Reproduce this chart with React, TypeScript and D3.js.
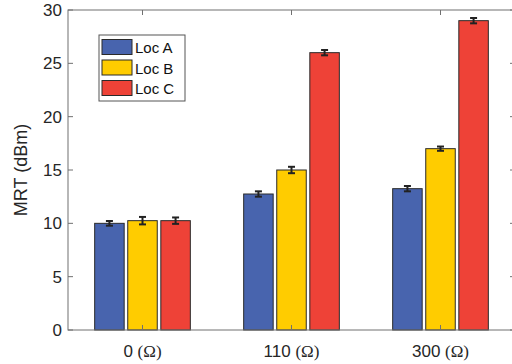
import React, { useRef, useEffect } from "react";
import * as d3 from "d3";

const groups = ["0", "110", "300"];
const series = ["Loc A", "Loc B", "Loc C"];
const colors = ["#4864ae", "#ffcc00", "#ee4237"];
const means = [
  [10.0, 12.75, 13.25],
  [10.25, 15.0, 17.0],
  [10.25, 26.0, 29.0],
];
const errs = [
  [0.22, 0.25, 0.25],
  [0.35, 0.3, 0.2],
  [0.3, 0.25, 0.25],
];
const yTicks = [0, 5, 10, 15, 20, 25, 30];

export default function App() {
  const ref = useRef<SVGSVGElement>(null);

  useEffect(() => {
    const width = 512;
    const height = 364;
    const margin = { top: 10, right: -3, bottom: 34, left: 68 };
    const svg = d3.select(ref.current);
    svg.selectAll("*").remove();
    svg.attr("width", width).attr("height", height);

    const x = d3.scaleLinear().domain([0.5, 3.5]).range([margin.left, width - margin.right]);
    const y = d3.scaleLinear().domain([0, 30]).range([height - margin.bottom, margin.top]);
    const font = "'Liberation Sans', Arial, sans-serif";
    const axisColor = "#707070";
    const offsets = [-0.222, 0, 0.222];
    const bw = x(1.198) - x(1);

    // bars
    series.forEach((s, si) => {
      svg.append("g")
        .selectAll("rect")
        .data(means[si])
        .join("rect")
        .attr("x", (d, gi) => x(gi + 1 + offsets[si]) - bw / 2)
        .attr("y", d => y(d))
        .attr("width", bw)
        .attr("height", d => y(0) - y(d))
        .attr("fill", colors[si])
        .attr("stroke", "#2a2a2a")
        .attr("stroke-width", 1);
    });

    // error bars
    series.forEach((s, si) => {
      const g = svg.append("g").attr("stroke", "#222").attr("stroke-width", 2);
      means[si].forEach((m, gi) => {
        const cx = x(gi + 1 + offsets[si]);
        const e = errs[si][gi];
        g.append("line").attr("x1", cx).attr("x2", cx).attr("y1", y(m - e)).attr("y2", y(m + e));
        g.append("line").attr("x1", cx - 3.5).attr("x2", cx + 3.5).attr("y1", y(m - e)).attr("y2", y(m - e));
        g.append("line").attr("x1", cx - 3.5).attr("x2", cx + 3.5).attr("y1", y(m + e)).attr("y2", y(m + e));
      });
    });

    // axes box
    const ax = svg.append("g").attr("stroke", axisColor).attr("fill", "none");
    ax.append("rect")
      .attr("x", x(0.5))
      .attr("y", y(30))
      .attr("width", x(3.5) - x(0.5))
      .attr("height", y(0) - y(30));

    yTicks.forEach(t => {
      ax.append("line").attr("x1", x(0.5)).attr("x2", x(0.5) + 5).attr("y1", y(t)).attr("y2", y(t));
      ax.append("line").attr("x1", x(3.5)).attr("x2", x(3.5) - 5).attr("y1", y(t)).attr("y2", y(t));
    });
    groups.forEach((gname, gi) => {
      ax.append("line").attr("x1", x(gi + 1)).attr("x2", x(gi + 1)).attr("y1", y(0)).attr("y2", y(0) - 5);
      ax.append("line").attr("x1", x(gi + 1)).attr("x2", x(gi + 1)).attr("y1", y(30)).attr("y2", y(30) + 5);
    });

    svg.append("g")
      .selectAll("text")
      .data(yTicks)
      .join("text")
      .attr("x", x(0.5) - 6)
      .attr("y", d => y(d) + 6)
      .attr("text-anchor", "end")
      .attr("font-family", font)
      .attr("font-size", 17)
      .attr("fill", "#262626")
      .text(d => d);

    const xl = svg.append("g")
      .selectAll("text")
      .data(groups)
      .join("text")
      .attr("x", (d, i) => x(i + 1))
      .attr("y", 357)
      .attr("text-anchor", "middle")
      .attr("font-family", font)
      .attr("font-size", 17)
      .attr("fill", "#262626");
    xl.append("tspan").text(d => d + " ");
    xl.append("tspan").attr("font-family", "'Liberation Serif', 'DejaVu Serif', serif").text("(Ω)");

    svg.append("text")
      .attr("transform", `translate(27,${(y(0) + y(30)) / 2}) rotate(-90)`)
      .attr("text-anchor", "middle")
      .attr("font-family", font)
      .attr("font-size", 18)
      .attr("fill", "#262626")
      .text("MRT (dBm)");

    // legend
    const lg = svg.append("g").attr("transform", "translate(99,35)");
    lg.append("rect").attr("width", 86).attr("height", 66).attr("fill", "#fff").attr("stroke", "#555");
    series.forEach((s, i) => {
      lg.append("rect")
        .attr("x", 3).attr("y", 4.5 + i * 20.5)
        .attr("width", 30).attr("height", 15)
        .attr("fill", colors[i]).attr("stroke", "#2a2a2a");
      lg.append("text")
        .attr("x", 36).attr("y", 18 + i * 20.5)
        .attr("font-family", font)
        .attr("font-size", 15)
        .attr("fill", "#111")
        .text(s);
    });
  }, []);

  return (
    <div style={{ position: "absolute", left: 0, top: 0 }}>
      <svg ref={ref}></svg>
    </div>
  );
}
